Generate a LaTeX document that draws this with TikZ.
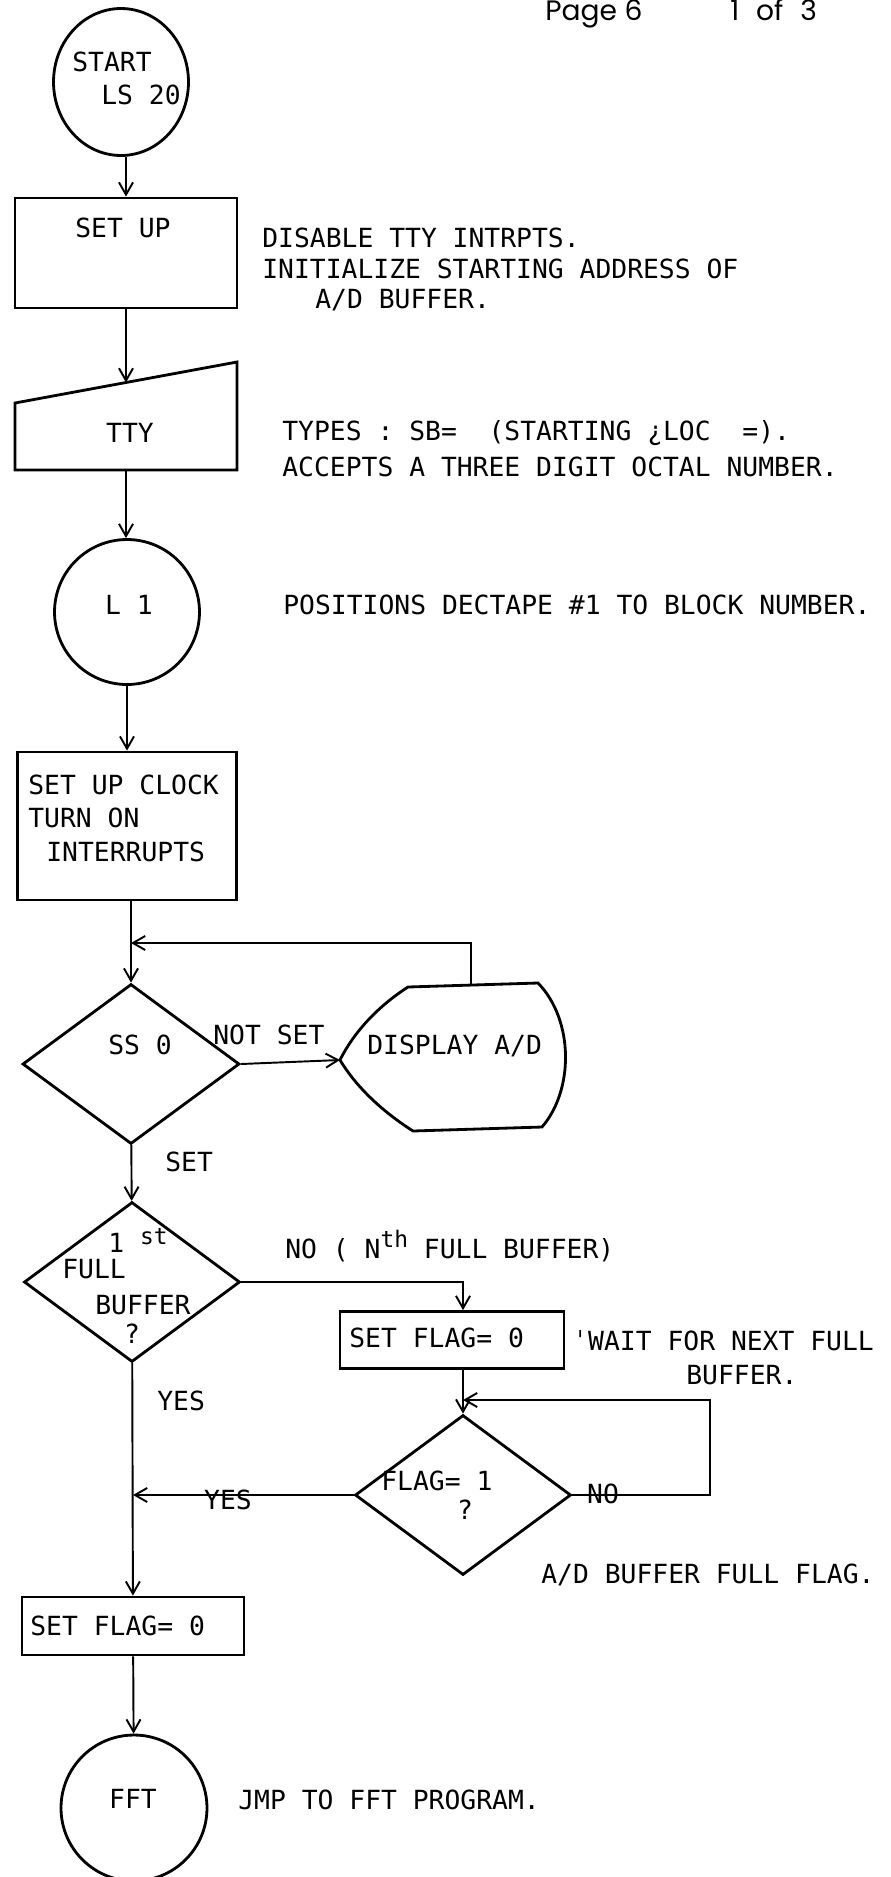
\documentclass[tikz,border=0pt]{standalone}
\usepackage{fontspec}
\usetikzlibrary{arrows.meta,shapes.geometric}
\newfontfamily\typewr{DejaVu Sans Mono}
\newfontfamily\pagefnt{Poppins}

\begin{document}
\begin{tikzpicture}[x=0.02cm, y=-0.02cm,
    >={Straight Barb[length=7pt,width=8pt]},
    every node/.style={inner sep=0pt},
    outline/.style={draw, line width=1.6pt},
    flow/.style={line width=1.1pt},
    txt/.style={font={\typewr\fontsize{15pt}{18pt}\selectfont}},
    note/.style={txt, anchor=west},
    pagestyle/.style={font={\pagefnt\fontsize{16pt}{18pt}\selectfont}, anchor=base west}]
    \useasboundingbox (0,0) rectangle (890,1877);
    \node[pagestyle] (pg) at (545,20) {Page 6};
    \node[pagestyle] (pgof) at (730,20) {1\hspace{0.6em}of\hspace{0.6em}3};

    \node[outline, ellipse, minimum width=2.7cm, minimum height=2.94cm] (start) at (121,82) {};
    \node[note] (startA) at (72,62) {START};
    \node[note] (startB) at (101,95) {LS 20};

    \node[outline, rectangle, minimum width=4.44cm, minimum height=2.2cm] (setup) at (126,253) {};
    \node[note] (setupT) at (75,228) {SET UP};
    \node[note] (n1) at (262,238) {DISABLE TTY INTRPTS.};
    \node[note] (n2) at (262,269) {INITIALIZE STARTING ADDRESS OF};
    \node[note] (n3) at (315,300) {A/D BUFFER.};

    \draw[outline] (15,403) -- (237,362) -- (237,470) -- (15,470) -- cycle;
    \coordinate (ttyin) at (126,382.5);
    \coordinate (ttyout) at (126,470);
    \node[txt] (tty) at (130,433) {TTY};
    \node[note] (n4) at (282,433) {TYPES : SB=\ \ (STARTING ¿LOC\ \ =).};
    \node[note] (n5) at (282,467) {ACCEPTS A THREE DIGIT OCTAL NUMBER.};

    \node[outline, circle, minimum size=2.9cm] (l1) at (127,612) {};
    \node[txt] (l1T) at (129,605) {L 1};
    \node[note] (n6) at (283,605) {POSITIONS DECTAPE \#1 TO BLOCK NUMBER.};

    \node[outline, rectangle, minimum width=4.38cm, minimum height=2.96cm] (clock) at (127,826) {};
    \node[note] (clockA) at (28,785) {SET UP CLOCK};
    \node[note] (clockB) at (28,818) {TURN ON};
    \node[note] (clockC) at (46,852) {INTERRUPTS};

    \node[outline, diamond, minimum width=4.34cm, minimum height=3.2cm] (ss0) at (131,1064) {};
    \node[txt] (ss0T) at (140,1045) {SS 0};

    \draw[outline] (408,987) -- (538,983) .. controls (574,1020) and (574,1090) .. (542,1127)
        -- (413,1131) .. controls (380,1110) and (355,1085) .. (340,1060)
        .. controls (355,1030) and (380,1005) .. (408,987) -- cycle;
    \coordinate (dispin) at (340,1060);
    \coordinate (disptop) at (471,985);
    \node[note] (disp) at (367,1046) {DISPLAY A/D};
    \coordinate (loopA) at (131,943);

    \draw[flow,->] (start.south -| setup) -- (setup);
    \draw[flow,->] (setup) -- (ttyin);
    \draw[flow,->] (ttyout) -- (ttyout |- l1.north);
    \draw[flow,->] (l1) -- (clock);
    \draw[flow] (clock.south -| loopA) -- (loopA);
    \draw[flow,->] (loopA) -- (ss0);
    \draw[flow,->] (disptop) |- (loopA);
    \draw[flow,->] (ss0.east) -- (dispin);
    \node[note] (notset) at (213,1035) {NOT SET};
    \node[note] (setlbl) at (165,1162) {SET};

    \node[outline, diamond, minimum width=4.32cm, minimum height=3.2cm] (full1) at (132,1282) {};
    \node[txt, anchor=base west] (fullA) at (108,1252) {1 \raisebox{4pt}{\fontsize{13pt}{13pt}\selectfont st}};
    \node[note] (fullB) at (62,1269) {FULL};
    \node[note] (fullC) at (95,1305) {BUFFER};
    \node[txt] (fullD) at (132,1334) {?};
    \draw[flow,->] (ss0) -- (full1);
    \node[txt, anchor=base west] (nolbl) at (285,1258) {NO ( N\raisebox{6pt}{\fontsize{13pt}{13pt}\selectfont th} FULL BUFFER)};

    \node[outline, rectangle, minimum width=4.48cm, minimum height=1.14cm] (fl0r) at (452,1340) {};
    \node[note] (fl0rT) at (349,1338) {SET FLAG= 0};
    \node[note] (n7) at (572,1341) {ˈWAIT FOR NEXT FULL};
    \node[note] (n8) at (686,1375) {BUFFER.};

    \node[outline, diamond, minimum width=4.32cm, minimum height=3.2cm] (flag1) at (463,1495) {};
    \node[note] (flagA) at (381,1481) {FLAG= 1};
    \node[txt] (flagB) at (465,1510) {?};
    \node[note] (n9) at (541,1575) {A/D BUFFER FULL FLAG.};

    \node[outline, rectangle, minimum width=4.44cm, minimum height=1.16cm] (fl0b) at (133,1626) {};
    \node[note] (fl0bT) at (30,1626) {SET FLAG= 0};
    \node[outline, circle, minimum size=2.92cm] (fft) at (134,1808) {};
    \node[txt] (fftT) at (133,1799) {FFT};
    \node[note] (n10) at (238,1800) {JMP TO FFT PROGRAM.};

    \draw[flow,->] (full1.east) -| (fl0r.north -| flag1.north);
    \draw[flow,->] (fl0r.south -| flag1.north) -- (flag1);
    \coordinate (loopB) at (463,1400);
    \draw[flow,->] (flag1.east) -- ++(138,0) |- (loopB);
    \node[txt] (nolbl2) at (603,1494) {NO};
    \draw[flow,->] (flag1.west) -- (flag1.west -| fl0b.north);
    \node[txt] (yes2) at (228,1500) {YES};
    \node[note] (yes1) at (157,1401) {YES};
    \draw[flow,->] (full1) -- (fl0b);
    \draw[flow,->] (fl0b) -- (fft);
\end{tikzpicture}
\end{document}
